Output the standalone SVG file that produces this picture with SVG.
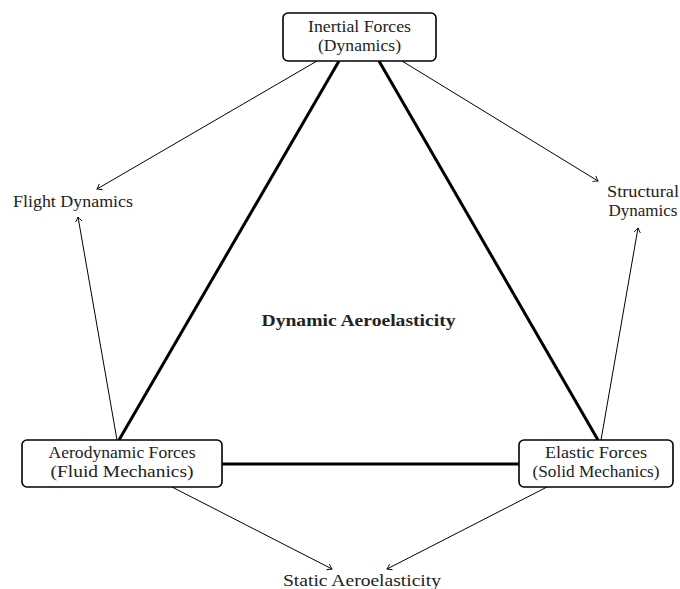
<svg xmlns="http://www.w3.org/2000/svg" width="680" height="589" viewBox="0 0 680 589">
<style>
text{font-family:"Liberation Serif","Times New Roman",serif;font-size:17px;fill:#222;text-anchor:middle}
.box{fill:#fff;stroke:#000;stroke-width:1.6}
.thick{stroke:#000;stroke-width:3;fill:none}
.thin{stroke:#000;stroke-width:1;fill:none;marker-end:url(#arr)}
.bold{font-weight:bold}
</style>
<defs>
<marker id="arr" viewBox="-6 -4 8 8" markerWidth="8" markerHeight="8" refX="0" refY="0" orient="auto" markerUnits="userSpaceOnUse">
<path d="M-4.5,-3.2 Q-1.5,-0.8 0,0 Q-1.5,0.8 -4.5,3.2" fill="none" stroke="#000" stroke-width="0.9"/>
</marker>
</defs>
<g id="connectors">
<line class="thick" x1="339" y1="61" x2="119" y2="440"/>
<line class="thick" x1="379" y1="61" x2="598" y2="440"/>
<line class="thick" x1="222" y1="464" x2="519" y2="464"/>
<line class="thin" x1="317" y1="61" x2="97" y2="189"/>
<line class="thin" x1="402" y1="61" x2="598" y2="181"/>
<line class="thin" x1="117" y1="440" x2="78" y2="217"/>
<line class="thin" x1="601" y1="440" x2="638" y2="228"/>
<line class="thin" x1="172" y1="487" x2="332" y2="569"/>
<line class="thin" x1="547" y1="487" x2="387" y2="569"/>
</g>
<g id="inertial">
<rect class="box" x="283" y="13" width="153" height="48" rx="5"/>
<text x="359.5" y="32" textLength="103" lengthAdjust="spacingAndGlyphs">Inertial Forces</text>
<text x="359.5" y="51" textLength="83" lengthAdjust="spacingAndGlyphs">(Dynamics)</text>
</g>
<g id="aerodynamic">
<rect class="box" x="22" y="440" width="200" height="47" rx="5"/>
<text x="122" y="458" textLength="147" lengthAdjust="spacingAndGlyphs">Aerodynamic Forces</text>
<text x="122" y="477" textLength="143" lengthAdjust="spacingAndGlyphs">(Fluid Mechanics)</text>
</g>
<g id="elastic">
<rect class="box" x="519" y="440" width="154" height="47" rx="5"/>
<text x="596" y="458" textLength="102" lengthAdjust="spacingAndGlyphs">Elastic Forces</text>
<text x="596" y="477" textLength="127" lengthAdjust="spacingAndGlyphs">(Solid Mechanics)</text>
</g>
<g id="flight">
<text x="73" y="207" textLength="120" lengthAdjust="spacingAndGlyphs">Flight Dynamics</text>
</g>
<g id="structural">
<text x="643" y="197" textLength="72" lengthAdjust="spacingAndGlyphs">Structural</text>
<text x="643" y="216" textLength="69" lengthAdjust="spacingAndGlyphs">Dynamics</text>
</g>
<g id="static">
<text x="362" y="586" textLength="158" lengthAdjust="spacingAndGlyphs">Static Aeroelasticity</text>
</g>
<g id="dynamic">
<text class="bold" x="358.5" y="326" font-size="17.5" textLength="194" lengthAdjust="spacingAndGlyphs">Dynamic Aeroelasticity</text>
</g>
</svg>
